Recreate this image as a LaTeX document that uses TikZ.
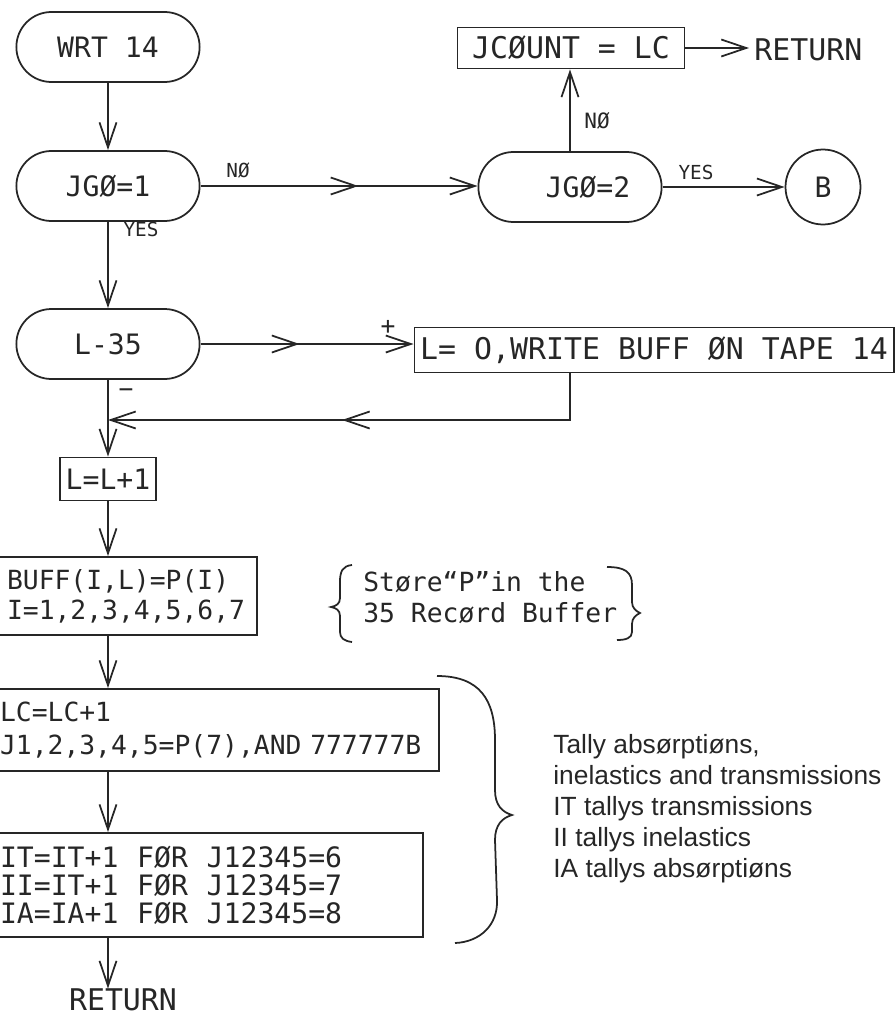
\documentclass[tikz,border=0pt]{standalone}
\usepackage{fontspec}
\setmainfont{DejaVu Sans Mono}
\newfontfamily\wrthand{Liberation Sans}
\usepackage{tikz}
\usetikzlibrary{arrows.meta,positioning,shapes.misc,decorations.markings}
\definecolor{wrtink}{RGB}{38,38,38}
\tikzset{
  wrtterm/.style={draw=wrtink, line width=1pt, rounded rectangle,
    minimum width=3.9cm, minimum height=1.4cm, text=wrtink,
    font=\fontsize{16}{19}\selectfont},
  wrtbox/.style={draw=wrtink, line width=1pt, rectangle, text=wrtink,
    font=\fontsize{16}{19}\selectfont},
  wrtarrow/.style={-{Straight Barb[length=5mm,width=3.4mm]}, line width=1pt,
    wrtink},
  wrtmid/.style={postaction={decorate}, decoration={markings,
    mark=at position #1 with {\arrow{Straight Barb[length=5mm,width=3.4mm]}}}},
  wrttag/.style={text=wrtink, inner sep=0pt, font=\fontsize{11}{13}\selectfont},
  wrtnote/.style={text=wrtink, inner sep=0pt, align=left},
  wrtbrace/.style={draw=wrtink, line width=1pt},
}

\begin{document}
\begin{tikzpicture}[x=0.02cm, y=-0.02cm]
  \useasboundingbox (0,0) rectangle (894,1021);
  \node[wrtterm] (wrt) at (108,47) {WRT 14};
  \node[wrtterm] (jgone) at (108,186) {JGØ=1};
  \node[wrtterm] (jgtwo) at (570,187) {\hspace*{0.72cm}JGØ=2};
  \node[wrtbox, circle, minimum size=1.5cm] (bconn) at (823,187) {B};
  \node[wrtbox, minimum width=4.54cm, minimum height=0.82cm,
    font=\fontsize{17}{20}\selectfont] (jcount) at (571,48) {JCØUNT = LC};
  \node[wrtnote, anchor=west, inner xsep=0.1cm,
    font=\fontsize{17}{20}\selectfont] (retone) at (749,50) {RETURN};
  \node[wrtterm] (lthirty) at (108,344) {L-35};
  \node[wrtbox, minimum width=9.56cm, minimum height=0.9cm,
    font=\fontsize{17}{20}\selectfont] (wbuf) at (654,350)
    {L= O,WRITE BUFF ØN TAPE 14};
  \coordinate (join) at (108,420);
  \node[wrtbox, minimum width=1.88cm, minimum height=0.86cm] (linc) at (108,479) {L=L+1};
  \node[wrtbox, text width=4.8cm, inner xsep=0.2cm, minimum height=1.56cm,
    align=left, font=\fontsize{15}{17}\selectfont] (buff) at (127,596)
    {BUFF(I,L)=P(I)\\I=1,2,3,4,5,6,7};
  \node[wrtbox, text width=8.68cm, inner xsep=0.1cm, minimum height=1.64cm,
    align=left, font=\fontsize{15}{19}\selectfont] (lc) at (217,730)
    {LC=LC+1\\J1,2,3,4,5=P(7),AND 777777B};
  \node[wrtbox, text width=8.36cm, inner xsep=0.1cm, minimum height=2.08cm,
    align=left, font=\fontsize{16}{16}\selectfont] (tally) at (209,885)
    {IT=IT+1~ FØR~ J12345=6\\II=IT+1~ FØR~ J12345=7\\IA=IA+1~ FØR~ J12345=8};
  \node[wrtnote, font=\fontsize{17}{20}\selectfont] (rettwo) at (123,1000) {RETURN};

  \node[wrttag] (noone) at (238,170) {NØ};
  \node[wrttag] (yesone) at (141,229) {YES};
  \node[wrttag, font=\fontsize{12}{14}\selectfont] (notwo) at (597,121) {NØ};
  \node[wrttag] (yestwo) at (696,172) {YES};
  \node[wrttag, font=\fontsize{14}{16}\selectfont] (plus) at (388,327) {+};
  \node[wrttag, font=\fontsize{14}{16}\selectfont] (minus) at (126,393) {−};

  \node[wrtnote, anchor=west, font=\fontsize{15}{17.6}\selectfont] (store)
    at (363,598) {Støre“P”in the\\35 Recørd Buffer};
  \node[wrtnote, anchor=north west, font=\wrthand\fontsize{15}{17.6}\selectfont]
    (tallynote) at (553,734) {Tally absørptiøns,\\inelastics and transmissions\\
    IT tallys transmissions\\II tallys inelastics\\IA tallys absørptiøns};

  \draw[wrtarrow] (wrt.south) -- (jgone.north);
  \draw[wrtarrow, wrtmid=0.57] (jgone.east) -- (jgone.east -| jgtwo.west);
  \draw[wrtarrow] (jgtwo.north) -- (jgtwo.north |- jcount.south);
  \draw[wrtarrow] (jgtwo.east) -- (bconn.west);
  \draw[wrtarrow] (jcount.east) -- (jcount.east -| retone.west);
  \draw[wrtarrow] (jgone.south) -- (lthirty.north);
  \draw[wrtarrow, wrtmid=0.465] (lthirty.east) -- (lthirty.east -| wbuf.west);
  \draw[wrtarrow, wrtmid=0.54] ([xshift=-1.68cm]wbuf.south) |- (join);
  \draw[wrtarrow] (lthirty.south) -- (linc.north);
  \draw[wrtarrow] (linc.south) -- (buff.north -| linc);
  \draw[wrtarrow] (buff.south -| linc) -- (lc.north -| linc);
  \draw[wrtarrow] (lc.south -| linc) -- (tally.north -| linc);
  \draw[wrtarrow] (tally.south -| linc) -- (rettwo.north -| linc);

  \draw[wrtbrace] (352,565) .. controls (342,566) and (340,572) .. (340,582)
    -- (340,598) .. controls (340,604) and (336,606) .. (331,607)
    .. controls (336,608) and (340,610) .. (340,616) -- (340,632)
    .. controls (340,638) and (344,641) .. (352,642);
  \draw[wrtbrace] (607,567) .. controls (625,567) and (632,572) .. (632,585)
    -- (632,602) .. controls (632,608) and (636,611) .. (640,613)
    .. controls (636,615) and (632,618) .. (632,624) -- (632,632)
    .. controls (632,638) and (626,640) .. (617,640);
  \draw[wrtbrace] (437,676) .. controls (480,676) and (495,700) .. (495,740)
    -- (495,790) .. controls (495,805) and (502,812) .. (512,815)
    .. controls (502,818) and (495,825) .. (495,840) -- (497,900)
    .. controls (498,925) and (480,942) .. (455,943);
\end{tikzpicture}
\end{document}
